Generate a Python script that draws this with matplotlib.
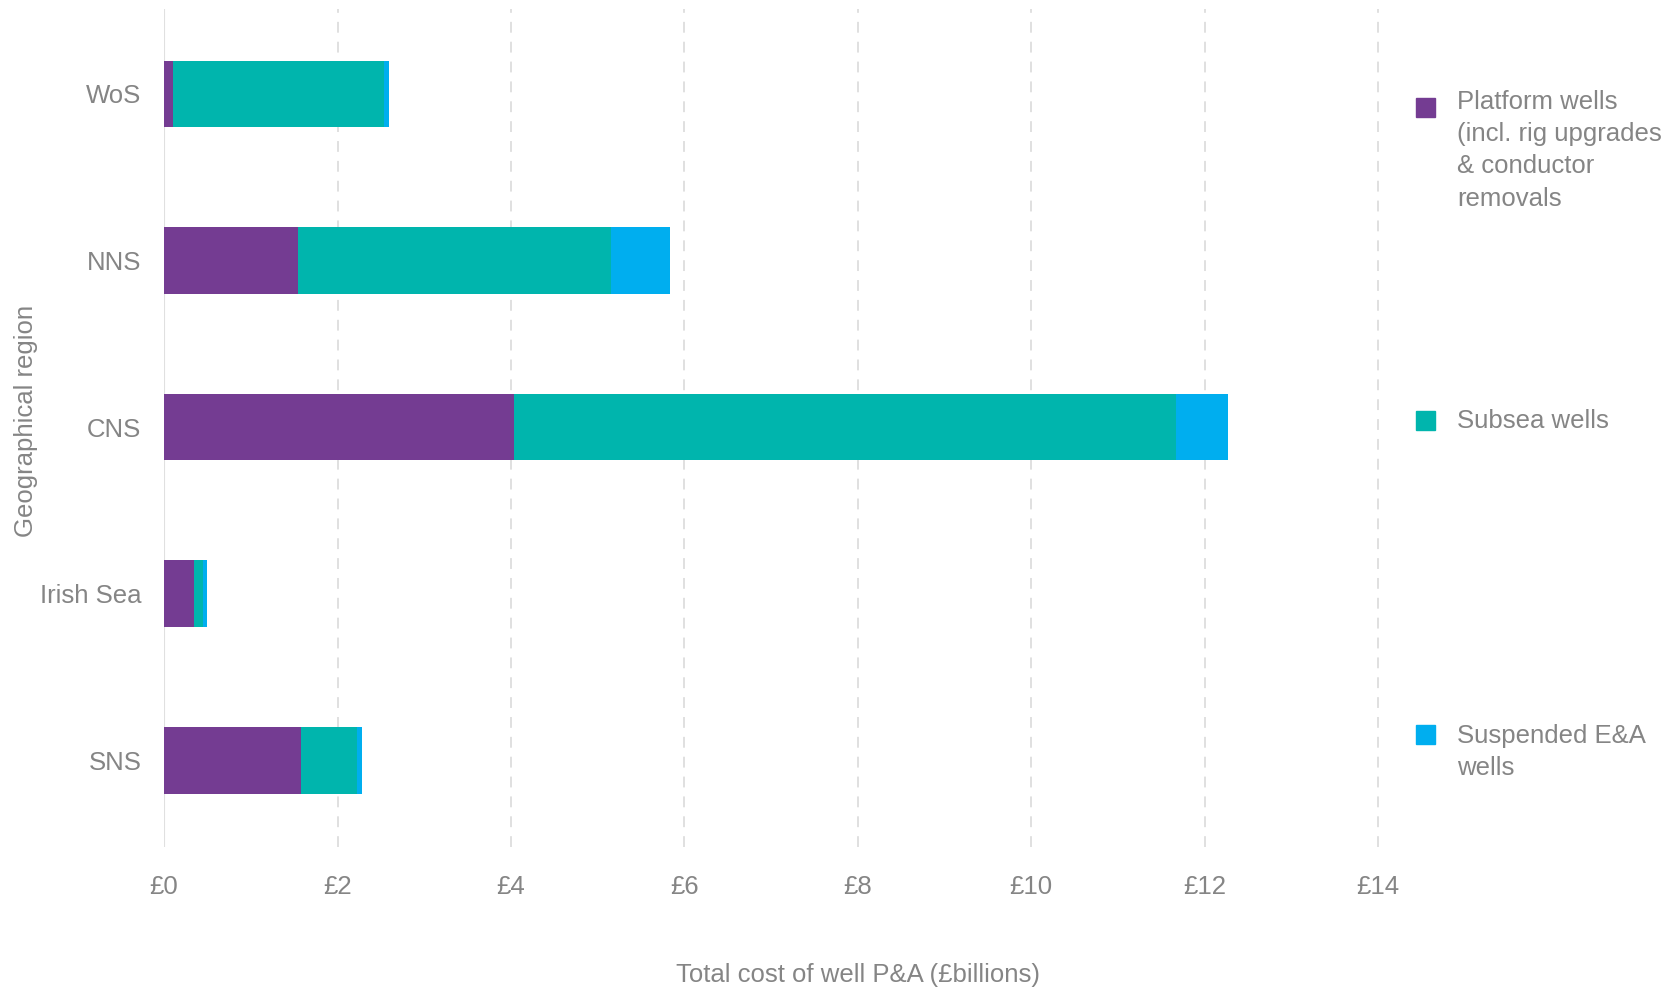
import numpy as np
import matplotlib.pyplot as plt
from matplotlib.patches import Rectangle

regions = ["WoS", "NNS", "CNS", "Irish Sea", "SNS"]
platform = [0.10, 1.54, 4.03, 0.34, 1.58]
subsea = [2.44, 3.61, 7.64, 0.11, 0.64]
suspended = [0.05, 0.68, 0.60, 0.05, 0.06]
xticks = [0, 2, 4, 6, 8, 10, 12, 14]
xticklabels = ["£0", "£2", "£4", "£6", "£8", "£10", "£12", "£14"]

series_names = ["Platform wells\n(incl. rig upgrades\n& conductor\nremovals",
                "Subsea wells",
                "Suspended E&A\nwells"]
colors = ["#743c92", "#00b5ad", "#00aeef"]

plt.rcParams['font.family'] = ['Liberation Sans', 'DejaVu Sans']
grey = "#858585"
fs = 18.5

fig = plt.figure(figsize=(16.81, 9.89), dpi=100)
ax = fig.add_axes([0.0976, 0.1436, 0.8254, 0.8473])

y = np.arange(len(regions))
left = np.zeros(len(regions))
for vals, c in zip([platform, subsea, suspended], colors):
    ax.barh(y, vals, left=left, height=0.4, color=c, zorder=3)
    left = left + np.array(vals)

ax.set_ylim(4.52, -0.51)
ax.set_xlim(0, 16)
ax.set_xticks(xticks)
ax.set_xticklabels(xticklabels)
ax.set_yticks(y)
ax.set_yticklabels(regions)
ax.tick_params(axis='both', length=0, labelsize=fs, labelcolor=grey)
ax.tick_params(axis='x', pad=20.5)
ax.tick_params(axis='y', pad=16.3)

for s in ax.spines.values():
    s.set_visible(False)
ax.axvline(0, color="#e0e0e0", lw=1.5, zorder=1)
for t in xticks[1:]:
    ax.axvline(t, color="#dddddd", lw=1.3, ls=(0, (6, 5)), zorder=1)

ax.text(0.5, -0.153, "Total cost of well P&A (£billions)", transform=ax.transAxes,
        ha='center', va='center', fontsize=fs, color=grey)
ax.text(-0.0995, 0.509, "Geographical region", transform=ax.transAxes, rotation=90,
        ha='center', va='center', fontsize=fs, color=grey)

# legend drawn by hand, items spread along the right side
W, H = 1681, 989
sq = 19
item_y = [107, 420, 734]
text_y = [103, 422, 737]
for name, c, ys, yt in zip(series_names, colors, item_y, text_y):
    fig.patches.append(Rectangle(((1426 - sq / 2) / W, 1 - (ys + sq / 2) / H), sq / W, sq / H,
                                 color=c, transform=fig.transFigure, figure=fig))
    fig.text(1457 / W, 1 - (yt - 13) / H, name, ha='left', va='top', fontsize=fs,
             color=grey, linespacing=1.43)

fig.savefig("out.png", dpi=100)
